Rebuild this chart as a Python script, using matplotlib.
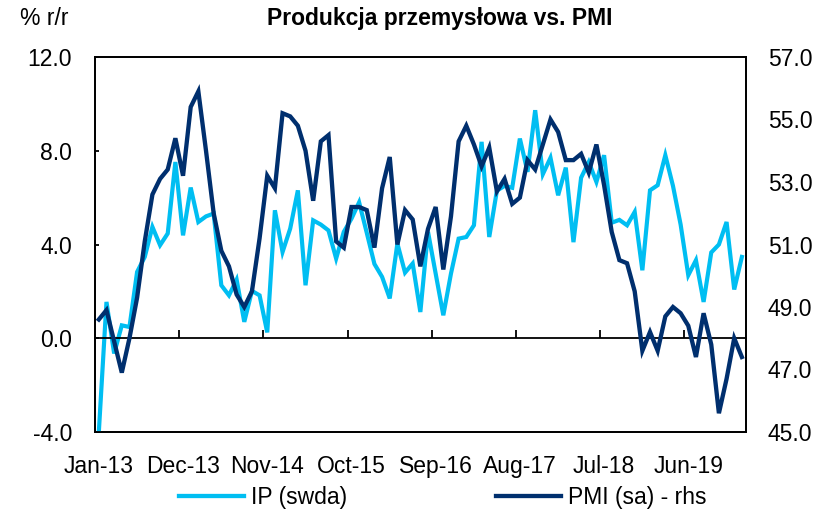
import matplotlib
matplotlib.use("Agg")
import matplotlib.pyplot as plt
from matplotlib.lines import Line2D
import numpy as np

plt.rcParams['font.family'] = ['Liberation Sans', 'DejaVu Sans']

# Monthly categories Jan-13 .. Jan-20 (85 months)
months = ['Jan', 'Feb', 'Mar', 'Apr', 'May', 'Jun', 'Jul', 'Aug', 'Sep', 'Oct', 'Nov', 'Dec']
categories = [f"{months[k % 12]}-{13 + (k // 12)}" for k in range(85)]

ip_swda = [
    -4.0, 1.55, -0.65, 0.55, 0.48, 2.83, 3.47, 4.75, 3.97, 4.47, 7.52, 4.39,
    6.43, 4.96, 5.2, 5.32, 2.26, 1.83, 2.5, 0.70, 2.02, 1.83, 0.25, 5.46,
    3.68, 4.68, 6.31, 2.26, 5.03, 4.85, 4.6, 3.40, 4.54, 5.1, 5.8, 4.5,
    3.17, 2.62, 1.7, 4.04, 2.8, 3.19, 1.12, 4.54, 2.76, 0.98, 2.76, 4.25,
    4.32, 4.82, 8.38, 4.32, 6.3, 6.5, 6.42, 8.52, 7.1, 9.73, 7.0, 7.7,
    6.1, 7.28, 4.1, 6.85, 7.52, 6.67, 7.81, 4.93, 5.05, 4.82, 5.39, 2.90,
    6.31, 6.53, 7.81, 6.5, 4.85, 2.69, 3.33, 1.55, 3.66, 4.0, 4.96, 2.08,
    3.47,
]

pmi_sa = [
    48.6, 48.9, 47.9, 46.9, 48.0, 49.3, 51.1, 52.6, 53.1, 53.4, 54.4, 53.2,
    55.4, 55.9, 54.0, 52.0, 50.8, 50.3, 49.4, 49.0, 49.5, 51.2, 53.2, 52.8,
    55.2, 55.1, 54.8, 54.0, 52.4, 54.3, 54.5, 51.1, 50.9, 52.2, 52.2, 52.1,
    50.9, 52.8, 53.8, 51.0, 52.1, 51.8, 50.3, 51.5, 52.2, 50.2, 51.9, 54.3,
    54.8, 54.2, 53.5, 54.1, 52.7, 53.1, 52.3, 52.5, 53.7, 53.4, 54.2, 55.0,
    54.6, 53.7, 53.7, 53.9, 53.3, 54.2, 52.9, 51.4, 50.5, 50.4, 49.5, 47.6,
    48.2, 47.6, 48.7, 49.0, 48.8, 48.4, 47.4, 48.8, 47.8, 45.6, 46.7, 48.0,
    47.4,
]

label_step = 11
left_ticks = [-4.0, 0.0, 4.0, 8.0, 12.0]
right_ticks = [45.0, 47.0, 49.0, 51.0, 53.0, 55.0, 57.0]

title = "Produkcja przemysłowa vs. PMI"
left_unit = "% r/r"
ip_label = "IP (swda)"
pmi_label = "PMI (sa) - rhs"

c_ip = '#00BEF2'
c_pmi = '#002F6E'
FS = 16.5

fig = plt.figure(figsize=(8.29, 5.13), dpi=100)
ax = fig.add_axes([95/829, 1 - 432/513, (745.7 - 95)/829, (432 - 57)/513])
ax2 = ax.twinx()

n = len(categories)
x = np.arange(n) + 0.5

ax.plot(x, ip_swda, color=c_ip, lw=3.0, solid_joinstyle='miter')
ax2.plot(x, pmi_sa, color=c_pmi, lw=3.1, solid_joinstyle='miter')

ax.set_xlim(0, n)
ax.set_ylim(left_ticks[0], left_ticks[-1])
ax2.set_ylim(right_ticks[0], right_ticks[-1])

# frame
for a in (ax, ax2):
    for s in a.spines.values():
        s.set_linewidth(1.3)
        s.set_color('black')

# zero line with upward ticks
ax.spines['bottom'].set_position(('data', 0))
ax.set_xticks(list(range(label_step, n, label_step)))
ax.tick_params(axis='x', direction='in', length=5.5, width=1.3, labelbottom=False)

# category labels at bottom
sec = ax.secondary_xaxis('bottom')
sec.set_xticks([i + 0.5 for i in range(0, n, label_step)])
sec.set_xticklabels([categories[i] for i in range(0, n, label_step)], fontsize=FS)
sec.tick_params(axis='x', length=0, pad=16.5)
sec.spines['bottom'].set_linewidth(1.3)

ax.set_yticks(left_ticks)
ax.set_yticklabels([f"{v:.1f}" for v in left_ticks], fontsize=FS)
ax.tick_params(axis='y', direction='in', length=3, width=1.3, pad=16.5)

ax2.set_yticks(right_ticks)
ax2.set_yticklabels([f"{v:.1f}" for v in right_ticks], fontsize=FS)
ax2.tick_params(axis='y', direction='in', length=0, pad=16)

fig.text(0.531, 0.963, title, ha='center', va='center', fontsize=FS, fontweight='bold')
fig.text(20/829, 0.963, left_unit, ha='left', va='center', fontsize=FS)

handles = [Line2D([0], [0], color=c_ip, lw=3.1), Line2D([0], [0], color=c_pmi, lw=3.1)]
fig.legend(handles, [ip_label, pmi_label], loc='center', bbox_to_anchor=(442.5/829, 0.031),
           ncol=2, frameon=False, fontsize=FS, handlelength=2.85, columnspacing=6.5,
           handletextpad=0.3)

fig.savefig('out.png', dpi=100)
